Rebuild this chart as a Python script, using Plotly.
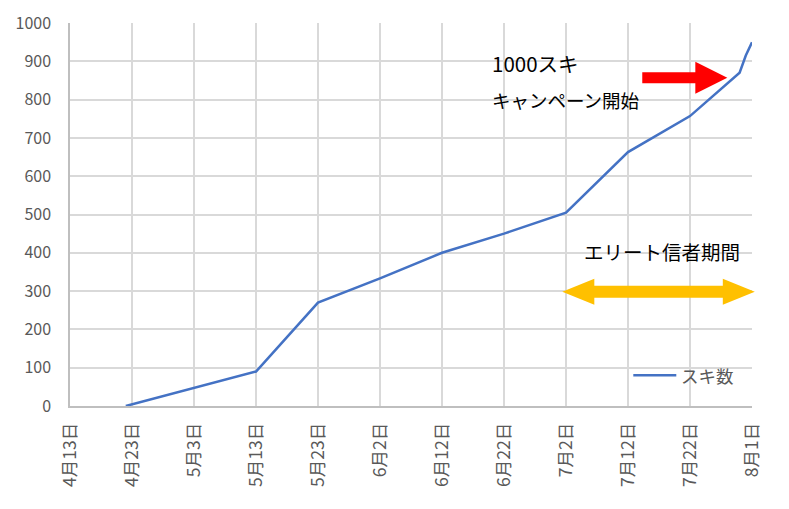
import plotly.graph_objects as go

# スキ数の推移
dates = ["2020-04-22", "2020-05-13", "2020-05-23", "2020-06-02", "2020-06-12",
         "2020-06-22", "2020-07-02", "2020-07-12", "2020-07-22", "2020-07-29",
         "2020-07-30", "2020-07-31", "2020-08-01"]
suki = [0, 90, 270, 333, 400, 450, 505, 663, 757, 855, 870, 915, 950]

tick_dates = ["2020-04-13", "2020-04-23", "2020-05-03", "2020-05-13", "2020-05-23",
              "2020-06-02", "2020-06-12", "2020-06-22", "2020-07-02", "2020-07-12",
              "2020-07-22", "2020-08-01"]
tick_labels = ["4月13日", "4月23日", "5月3日", "5月13日", "5月23日", "6月2日",
               "6月12日", "6月22日", "7月2日", "7月12日", "7月22日", "8月1日"]

FONT = "Noto Sans CJK JP"
BLUE = "#4472C4"

# pixel -> paper helpers (plot area 69.7..751.7 x 22.7..405.7 on screen)
L, R, T, B = 69.7, 751.7, 22.7, 405.7
def px(x):
    return (x - L) / (R - L)
def py(y):
    return (B - y) / (B - T)

def path(points):
    s = "M " + " L ".join(f"{px(x):.4f},{py(y):.4f}" for x, y in points)
    return s + " Z"

red_arrow = path([(642, 72), (695, 72), (695, 61.5), (727, 77.5),
                  (695, 93.5), (695, 83), (642, 83)])
yellow_arrow = path([(562, 291.5), (594, 278.5), (594, 285.5), (722.5, 285.5),
                     (722.5, 278.5), (754.5, 291.5), (722.5, 304.5), (722.5, 297.5),
                     (594, 297.5), (594, 304.5)])

trace = go.Scatter(
    x=dates, y=suki, mode="lines", name="スキ数",
    line=dict(color=BLUE, width=2.5),
)

# the page puts the figure 8px in from the top-left corner
layout = go.Layout(
    width=789, height=509,
    margin=dict(l=62, r=45, t=15, b=111),
    paper_bgcolor="white", plot_bgcolor="white",
    font=dict(family=FONT, color="#595959", size=16),
    xaxis=dict(
        type="date", range=["2020-04-13", "2020-08-01"],
        tickvals=tick_dates, ticktext=tick_labels, tickangle=-90,
        showgrid=True, gridcolor="#d9d9d9", gridwidth=1.5,
        showline=True, linecolor="#bfbfbf", linewidth=1.5,
        ticklabelstandoff=8, tickfont=dict(size=17.5, color="#595959"),
        zeroline=False, automargin=False,
    ),
    yaxis=dict(
        range=[0, 1000], dtick=100,
        showgrid=True, gridcolor="#d9d9d9", gridwidth=1.5,
        showline=True, linecolor="#bfbfbf", linewidth=1.5,
        ticklabelstandoff=14, tickfont=dict(size=16, color="#595959"),
        zeroline=False, automargin=False,
    ),
    showlegend=False,
    shapes=[
        dict(type="rect", xref="paper", yref="paper", x0=px(485), x1=px(660),
             y0=py(128), y1=py(34), fillcolor="white", line=dict(width=0), layer="between"),
        dict(type="rect", xref="paper", yref="paper", x0=px(577), x1=px(752),
             y0=py(278), y1=py(228), fillcolor="white", line=dict(width=0), layer="between"),
        dict(type="path", xref="paper", yref="paper", path=red_arrow,
             fillcolor="#FF0000", line=dict(width=0), layer="above"),
        dict(type="path", xref="paper", yref="paper", path=yellow_arrow,
             fillcolor="#FFC000", line=dict(width=0), layer="above"),
        # legend sample line
        dict(type="line", xref="paper", yref="paper", x0=px(633), x1=px(676),
             y0=py(375), y1=py(375), line=dict(color=BLUE, width=2.5)),
    ],
    annotations=[
        dict(text="1000スキ", xref="paper", yref="paper", x=px(490), y=py(63),
             xanchor="left", yanchor="middle", showarrow=False,
             font=dict(family=FONT, size=20.5, color="black")),
        dict(text="キャンペーン開始", xref="paper", yref="paper", x=px(490), y=py(100),
             xanchor="left", yanchor="middle", showarrow=False,
             font=dict(family=FONT, size=18.5, color="black")),
        dict(text="エリート信者期間", xref="paper", yref="paper", x=px(582), y=py(251),
             xanchor="left", yanchor="middle", showarrow=False,
             font=dict(family=FONT, size=19.5, color="black")),
        dict(text="スキ数", xref="paper", yref="paper", x=px(679), y=py(375),
             xanchor="left", yanchor="middle", showarrow=False,
             font=dict(family=FONT, size=17.5, color="#595959")),
    ],
)

fig = go.Figure(data=[trace], layout=layout)
fig.write_html("out.html")
